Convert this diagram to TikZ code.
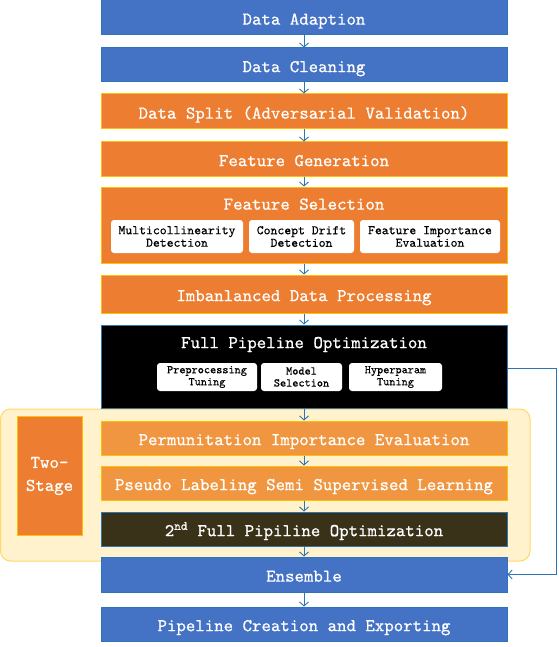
\documentclass[tikz,border=0pt]{standalone}
\usepackage{fontspec}
\newfontfamily\boxfont{lmmono10-regular.otf}[FakeBold=0.7]
\newfontfamily\subfont{lmmono10-regular.otf}[FakeBold=0.4]
\usetikzlibrary{arrows.meta}
\definecolor{bfill}{HTML}{4472C4}
\definecolor{bline}{HTML}{2E75B6}
\definecolor{ofill}{HTML}{ED7D31}
\definecolor{oline}{HTML}{FFC000}
\definecolor{lofill}{HTML}{F19640}
\definecolor{brown}{HTML}{3A3119}
\definecolor{yfill}{HTML}{FFF2CC}
\definecolor{yline}{HTML}{FFD966}
\tikzset{
  stagebox/.style={minimum width=406pt, inner sep=0pt, line width=1pt, text=white,
    text height=14.3pt, text depth=0pt, font=\boxfont\fontsize{18}{19}\selectfont},
  bluebox/.style={stagebox, fill=bfill, draw=bline},
  orbox/.style={stagebox, fill=ofill, draw=oline},
  lorbox/.style={stagebox, fill=lofill, draw=oline},
  blkbox/.style={stagebox, fill=black, draw=bline},
  brbox/.style={stagebox, fill=brown, draw=bline},
  subbox/.style={fill=white, rounded corners=3pt, inner sep=0pt, align=center, text=black},
  bigsub/.style={subbox, minimum height=33pt, font=\subfont\fontsize{13.1}{12.5}\selectfont},
  smallsub/.style={subbox, minimum height=28pt, font=\subfont\fontsize{11.7}{12}\selectfont},
  arr/.style={draw=bline, line width=0.9pt, -{Straight Barb[length=4pt,width=9pt]}},
  lbl/.style={text=white, inner sep=0pt, text height=14.3pt, text depth=0pt, font=\boxfont\fontsize{18}{19}\selectfont}
}
\begin{document}
\begin{tikzpicture}[x=1pt,y=-1pt]
\useasboundingbox (0,0) rectangle (558,647);
% two-stage region
\draw[fill=yfill, draw=yline, line width=1pt, rounded corners=10pt] (0.5,409) rectangle (530,561);
\node[fill=ofill, draw=oline, line width=1pt, minimum width=65pt, minimum height=119pt, inner sep=0pt,
  align=center, text=white, font=\boxfont\fontsize{18}{23}\selectfont] (two) at (49.5,476) {Two-\\Stage};

\node[bluebox, minimum height=35pt] (da) at (304,17.5) {Data Adaption};
\node[bluebox, minimum height=34pt] (dc) at (304,65) {Data Cleaning};
\node[orbox, minimum height=35pt] (ds) at (304,111.5) {Data Split (Adversarial Validation)};
\node[orbox, minimum height=34pt] (fg) at (304,159) {Feature Generation};
\node[orbox, minimum height=76pt] (fs) at (304,225) {};
\node[lbl] (fst) at (304,202.5) {Feature Selection};
\node[bigsub, minimum width=132pt] (fs1) at (177,236.5) {Multicollinearity\\Detection};
\node[bigsub, minimum width=105pt] (fs2) at (301.5,236.5) {Concept Drift\\Detection};
\node[bigsub, minimum width=140pt] (fs3) at (430,236.5) {Feature Importance\\Evaluation};
\node[orbox, minimum height=38pt] (idp) at (304,294) {Imbanlanced Data Processing};
\node[blkbox, minimum height=83pt] (fpo) at (304,366.5) {};
\node[lbl] (fpot) at (304,341) {Full Pipeline Optimization};
\node[smallsub, minimum width=100pt] (fp1) at (207,377) {Preprocessing\\Tuning};
\node[smallsub, minimum width=81pt] (fp2) at (301.5,377) {Model\\Selection};
\node[smallsub, minimum width=93pt] (fp3) at (395.5,377) {Hyperparam\\Tuning};
\node[lorbox, minimum height=34pt] (pie) at (304,438) {Permunitation Importance Evaluation};
\node[lorbox, minimum height=34pt] (pss) at (304,483) {Pseudo Labeling Semi Supervised Learning};
\node[brbox, minimum height=34pt] (sfo) at (304,529) {2\textsuperscript{nd} Full Pipiline Optimization};
\node[bluebox, minimum height=35pt] (ens) at (304,574.5) {Ensemble};
\node[bluebox, minimum height=34pt] (pce) at (304,624) {Pipeline Creation and Exporting};

\draw[arr] (da) -- (dc);
\draw[arr] (dc) -- (ds);
\draw[arr] (ds) -- (fg);
\draw[arr] (fg) -- (fs);
\draw[arr] (fs) -- (idp);
\draw[arr] (idp) -- (fpo);
\draw[arr] (fpo) -- (pie);
\draw[arr] (pie) -- (pss);
\draw[arr] (pss) -- (sfo);
\draw[arr] (sfo) -- (ens);
\draw[arr] (ens) -- (pce);
\coordinate (fbk) at (556,368);
\draw[arr] (fpo.east |- fbk) -- (fbk) |- (ens.east);
\end{tikzpicture}
\end{document}
